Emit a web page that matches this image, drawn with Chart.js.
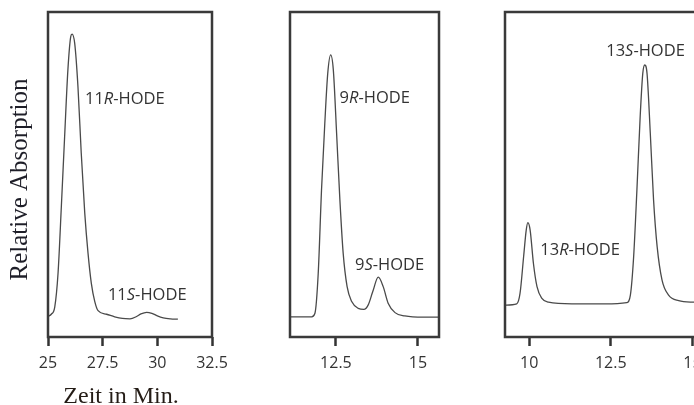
<!DOCTYPE html>
<html><head><meta charset="utf-8">
<script src="https://cdn.jsdelivr.net/npm/chart.js@4.4.0/dist/chart.umd.min.js"></script>
<style>
html,body{margin:0;padding:0;width:694px;height:405px;overflow:hidden;background:#fff;}
canvas{position:absolute;left:0;top:0;}
</style></head>
<body>
<canvas id="c1" width="694" height="405"></canvas>
<canvas id="c2" width="694" height="405"></canvas>
<canvas id="c3" width="740" height="405"></canvas>
<script>
// ---- data: 11-HODE panel ----
const time11 = [25.00,25.15,25.31,25.46,25.61,25.76,25.91,26.04,26.10,26.22,26.37,26.52,26.68,26.83,26.98,27.14,27.29,27.68,28.05,28.40,28.75,29.05,29.25,29.51,29.75,30.00,30.27,30.60,30.94];
const abs11  = [6.3,7.0,9.3,19.7,40.1,61.6,82.2,92.4,93.2,90.4,77.0,56.6,38.2,25.8,16.6,10.9,8.1,7.0,6.2,5.7,5.6,6.3,7.1,7.6,7.3,6.5,5.9,5.6,5.5];
const ticks11 = [25, 27.5, 30, 32.5];

// ---- data: 9-HODE panel ----
const time9 = [11.10,11.76,11.86,11.96,12.06,12.16,12.25,12.34,12.42,12.52,12.62,12.72,12.84,12.98,13.18,13.35,13.48,13.62,13.79,13.94,14.09,14.30,14.60,15.16,15.67];
const abs9  = [6.2,6.2,7.3,19.6,45.2,65.7,81.1,86.8,82.2,62.7,42.2,25.8,15.5,10.9,8.8,8.5,9.8,13.9,18.4,15.5,10.4,7.5,6.5,6.1,6.1];
const ticks9 = [12.5, 15];

// ---- data: 13-HODE panel ----
const time13 = [9.26,9.62,9.72,9.83,9.91,9.96,10.03,10.13,10.24,10.39,10.59,11.31,12.33,12.99,13.10,13.20,13.30,13.40,13.48,13.54,13.61,13.71,13.81,13.92,14.07,14.27,14.58,15.06,15.60];
const abs13  = [9.8,10.2,13.4,24.7,32.9,35.2,32.9,22.7,15.5,11.9,10.7,10.2,10.2,10.6,12.9,24.7,45.2,67.8,81.1,83.7,81.1,62.7,42.2,27.8,17.5,12.9,11.2,10.7,10.5];
const ticks13 = [10, 12.5, 15];

// ---- peak labels ----
const labels11 = ['11R-HODE', '11S-HODE'];
const labels9  = ['9R-HODE', '9S-HODE'];
const labels13 = ['13S-HODE', '13R-HODE'];
// label anchors (left edge, vertical centre) in data units
const anchors11 = [[26.69, 73.2], [27.74, 12.9]];
const anchors9  = [[12.61, 73.4], [13.08, 22.2]];
const anchors13 = [[12.36, 87.8], [10.34, 26.8]];

const yTitle = 'Relative Absorption';
const xTitle = 'Zeit in Min.';

const SANS = '"Open Sans", "DejaVu Sans", sans-serif';
const SERIF = '"Liberation Serif", "DejaVu Serif", serif';
const INK = '#333333';

const boxPlugin = {
  id: 'box',
  afterDatasetsDraw(chart) {
    const {ctx, chartArea: a} = chart;
    ctx.save();
    ctx.strokeStyle = '#3a3a3a';
    ctx.lineWidth = 2.5;
    ctx.strokeRect(a.left, a.top, a.right - a.left, a.bottom - a.top);
    ctx.restore();
  }
};

function peakLabelPlugin(texts, anchors) {
  return {
    id: 'peakLabels',
    afterDraw(chart) {
      const ctx = chart.ctx;
      const xs = chart.scales.x, ys = chart.scales.y;
      ctx.save();
      ctx.fillStyle = INK;
      ctx.textBaseline = 'middle';
      ctx.textAlign = 'left';
      texts.forEach((t, i) => {
        const m = t.match(/^(\d+)([RS])(.*)$/);
        let x = xs.getPixelForValue(anchors[i][0]);
        const y = ys.getPixelForValue(anchors[i][1]);
        const parts = [[m[1], false], [m[2], true], [m[3], false]];
        parts.forEach(([s, it]) => {
          ctx.font = (it ? 'italic ' : '') + '16.5px ' + SANS;
          ctx.fillText(s, x, y);
          x += ctx.measureText(s).width;
        });
      });
      ctx.restore();
    }
  };
}

const titlePlugin = {
  id: 'titles',
  afterDraw(chart) {
    const ctx = chart.ctx;
    const a = chart.chartArea;
    ctx.save();
    ctx.fillStyle = '#1e1e28';
    ctx.font = '25px ' + SERIF;
    ctx.textAlign = 'center';
    ctx.textBaseline = 'middle';
    ctx.translate(a.left - 28, (a.top + a.bottom) / 2 + 5);
    ctx.rotate(-Math.PI / 2);
    ctx.fillText(yTitle, 0, 0);
    ctx.restore();
    ctx.save();
    ctx.fillStyle = '#241c16';
    ctx.font = '24px ' + SERIF;
    ctx.textAlign = 'center';
    ctx.textBaseline = 'alphabetic';
    ctx.fillText(xTitle, 121, 403);
    ctx.restore();
  }
};

function makeChart(id, xsArr, ysArr, tickVals, xmin, xmax, pad, texts, anchors, extra) {
  const pts = xsArr.map((x, i) => ({x: x, y: ysArr[i]}));
  const plugins = [boxPlugin, peakLabelPlugin(texts, anchors)];
  if (extra) plugins.push(extra);
  return new Chart(document.getElementById(id), {
    type: 'line',
    data: {datasets: [{
      data: pts,
      borderColor: '#4a4a4a',
      borderWidth: 1.3,
      pointRadius: 0,
      cubicInterpolationMode: 'monotone',
      fill: false
    }]},
    options: {
      responsive: false,
      animation: false,
      devicePixelRatio: 1,
      layout: {padding: pad},
      plugins: {legend: {display: false}, tooltip: {enabled: false}},
      events: [],
      scales: {
        x: {
          type: 'linear',
          min: xmin, max: xmax,
          afterBuildTicks: s => { s.ticks = tickVals.map(v => ({value: v})); },
          afterFit: s => { s.height = 68; },
          border: {display: false},
          grid: {display: true, drawOnChartArea: false, drawTicks: true, tickLength: 9,
                 tickColor: '#333', tickWidth: 2.5, color: '#333'},
          ticks: {padding: 8, color: INK, font: {family: SANS, size: 16}, maxRotation: 0, autoSkip: false}
        },
        y: {display: false, min: 0, max: 100}
      }
    },
    plugins: plugins
  });
}

makeChart('c1', time11, abs11, ticks11, 25, 32.5, {left: 48, right: 694 - 212, top: 12, bottom: 0}, labels11, anchors11, titlePlugin);
makeChart('c2', time9, abs9, ticks9, 11.1, 15.64, {left: 290, right: 694 - 439, top: 12, bottom: 0}, labels9, anchors9);
makeChart('c3', time13, abs13, ticks13, 9.26, 15.6, {left: 505, right: 740 - 712, top: 12, bottom: 0}, labels13, anchors13);
</script>
</body></html>
